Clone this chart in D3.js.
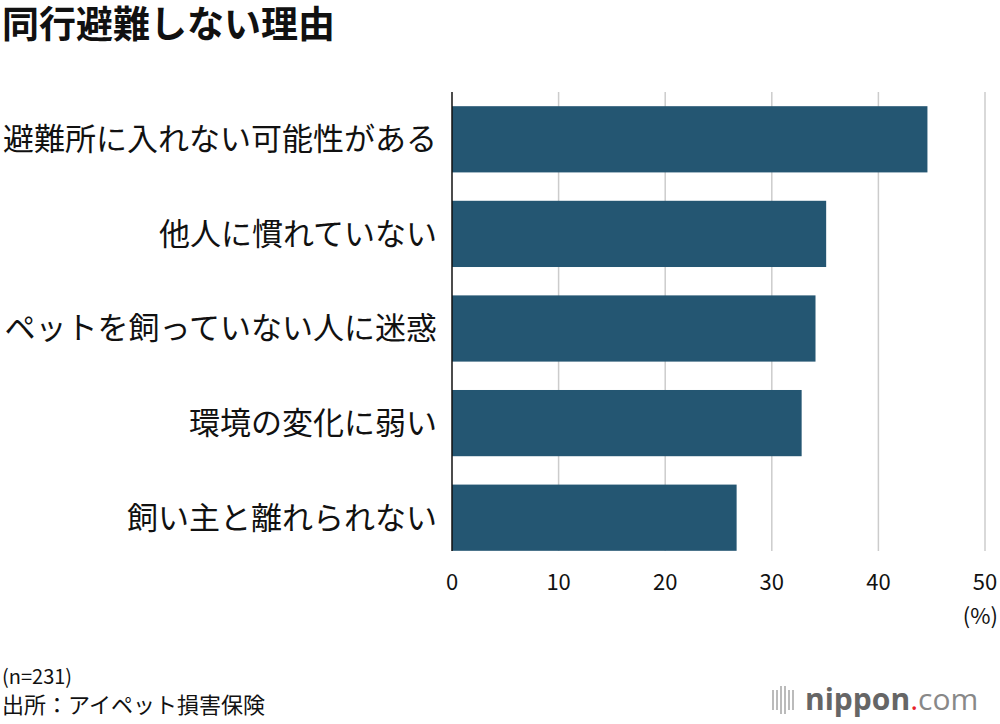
<!DOCTYPE html>
<html><head><meta charset="utf-8">
<script src="https://cdn.jsdelivr.net/npm/d3@7"></script>
<style>body{margin:0;background:#fff}svg{font-family:"Noto Sans CJK JP","Noto Sans",sans-serif}</style>
</head><body><svg id="c" width="1000" height="724"></svg>
<script>
const categories = ["避難所に入れない可能性がある","他人に慣れていない","ペットを飼っていない人に迷惑","環境の変化に弱い","飼い主と離れられない"];
const values = [44.6, 35.1, 34.1, 32.8, 26.7];
const ticks = [0,10,20,30,40,50];

const svg = d3.select('#c');
const x = d3.scaleLinear().domain([0,50]).range([452,985]);
const y = d3.scaleBand().domain(categories).range([92,565]).paddingInner(0.3).paddingOuter(0.15);

svg.append('text').attr('x',2).attr('y',38).attr('font-size',37).attr('font-weight','bold').attr('fill','#111').text('同行避難しない理由');

svg.selectAll('.grid').data(ticks.slice(1)).join('line')
  .attr('x1',d=>x(d)).attr('x2',d=>x(d)).attr('y1',92).attr('y2',551)
  .attr('stroke','#ccc').attr('stroke-width',1.5);

svg.selectAll('.bar').data(values).join('rect')
  .attr('x',x(0)).attr('y',(d,i)=>y(categories[i])).attr('width',d=>x(d)-x(0)).attr('height',y.bandwidth())
  .attr('fill','#245672');

svg.append('line').attr('x1',x(0)).attr('x2',x(0)).attr('y1',92).attr('y2',551).attr('stroke','#111').attr('stroke-width',1.5);

svg.selectAll('.lab').data(categories).join('text')
  .attr('x',437).attr('y',d=>y(d)+y.bandwidth()/2).attr('dy','0.35em').attr('text-anchor','end')
  .attr('font-size',31).attr('fill','#111').text(d=>d);

svg.selectAll('.tick').data(ticks).join('text')
  .attr('x',d=>x(d)).attr('y',590).attr('text-anchor','middle').attr('font-size',22).attr('fill','#111').text(d=>d);
svg.append('text').attr('x',998).attr('y',624).attr('text-anchor','end').attr('font-size',22).attr('fill','#111').text('(%)');

svg.append('text').attr('x',2).attr('y',684).attr('font-size',20).attr('fill','#111').text('(n=231)');
svg.append('text').attr('x',2).attr('y',713).attr('font-size',22).attr('fill','#111').text('出所：アイペット損害保険');

const logo = svg.append('g');
[0,4,8,12,16,20].forEach((dx,i)=>logo.append('line').attr('x1',773+dx).attr('x2',773+dx)
  .attr('y1',i==2||i==3?686:690).attr('y2',i==2||i==3?714:710).attr('stroke','#bbb').attr('stroke-width',2));
const t = logo.append('text').attr('x',805).attr('y',710).attr('font-size',30).attr('font-family','"Open Sans",sans-serif').attr('fill','#666');
t.append('tspan').attr('font-weight','bold').text('nippon');
t.append('tspan').attr('fill','#e8202a').text('.');
t.append('tspan').attr('fill','#888').text('com');
</script></body></html>
